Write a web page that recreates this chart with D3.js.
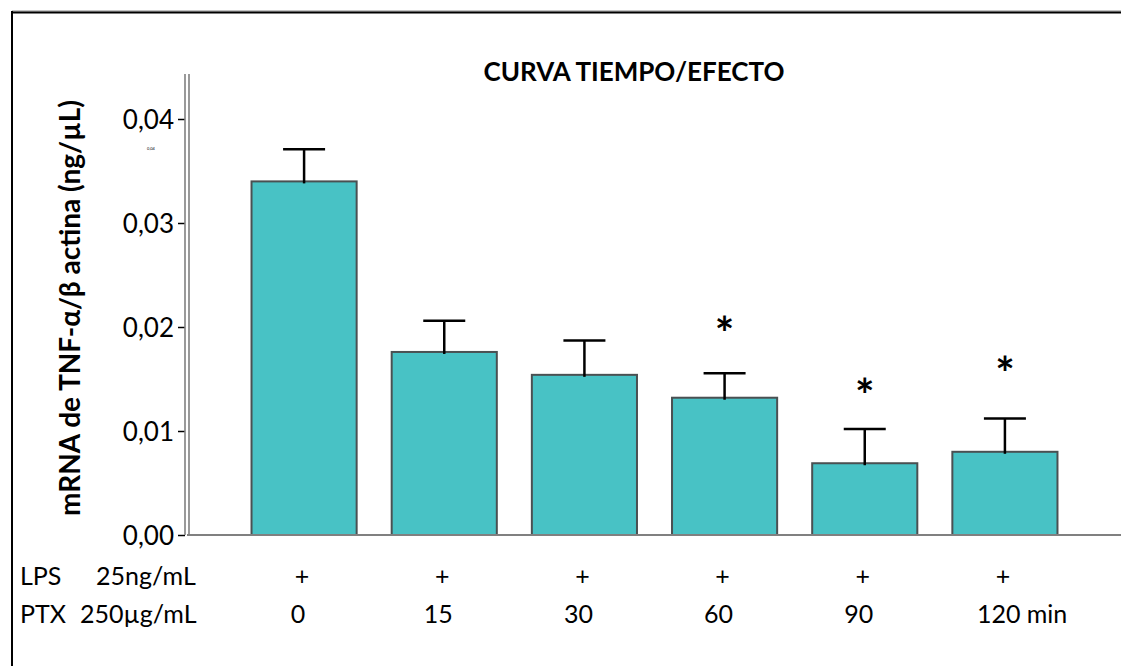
<!DOCTYPE html>
<html>
<head>
<meta charset="utf-8">
<script src="https://cdn.jsdelivr.net/npm/d3@7"></script>
<style>
  html, body { margin: 0; padding: 0; background: #fff; }
  svg { display: block; }
  text { font-family: Lato, "Open Sans", sans-serif; fill: #000; }
</style>
</head>
<body>
<svg id="chart" width="1121" height="666"></svg>
<script>
// ---- data ----
const categories = ["0", "15", "30", "60", "90", "120"];
const lpsLabels = ["+", "+", "+", "+", "+", "+"];
const ptxLabels = ["0", "15", "30", "60", "90", "120 min"];
const means = [0.0340, 0.0176, 0.0154, 0.0132, 0.0069, 0.0080];
const errors = [0.0031, 0.0030, 0.0033, 0.00235, 0.0033, 0.0032];
const significant = [false, false, false, true, true, true];
const starLevels = [null, null, null, 0.0199, 0.0139, 0.0161];
const yTicks = [0, 0.01, 0.02, 0.03, 0.04];
const yTickLabels = ["0,00", "0,01", "0,02", "0,03", "0,04"];

const title = "CURVA TIEMPO/EFECTO";
const yTitle = "mRNA de TNF-α/β actina (ng/µL)";

// ---- layout ----
const svg = d3.select("#chart");
const W = 1121, H = 666;
const axisX = 187, baseY = 535;

// outer frame (left + top only, extends past right edge)
svg.append("line").attr("x1", 12).attr("x2", W).attr("y1", 11).attr("y2", 11)
  .attr("stroke", "#888").attr("stroke-width", 1);
svg.append("line").attr("x1", 12).attr("x2", W).attr("y1", 12.5).attr("y2", 12.5)
  .attr("stroke", "#000").attr("stroke-width", 2);
svg.append("line").attr("x1", 12).attr("x2", 12).attr("y1", 11).attr("y2", H)
  .attr("stroke", "#000").attr("stroke-width", 2);

const y = d3.scaleLinear().domain([0, 0.04]).range([baseY, 119]);
const x = d3.scaleBand().domain(categories).range([234, 1075]).paddingInner(0.25).paddingOuter(0.125);
const cxOf = i => x(categories[i]) + x.bandwidth() / 2;

// bars
svg.append("g").selectAll("rect").data(means).join("rect")
  .attr("x", (d, i) => x(categories[i]))
  .attr("y", d => y(d))
  .attr("width", x.bandwidth())
  .attr("height", d => y(0) - y(d))
  .attr("fill", "#48C2C5")
  .attr("stroke", "#4a5052")
  .attr("stroke-width", 2);

// x baseline
svg.append("line").attr("x1", axisX).attr("x2", W).attr("y1", baseY).attr("y2", baseY)
  .attr("stroke", "#808080").attr("stroke-width", 2);

// y axis (double line) with ticks
const yAxis = d3.axisLeft(y).tickValues(yTicks)
  .tickFormat((d, i) => yTickLabels[i]).tickSize(7).tickPadding(4);
const gy = svg.append("g").attr("transform", `translate(${axisX - 2},0)`).call(yAxis);
gy.select(".domain").remove();
gy.selectAll(".tick line").attr("stroke", "#000").attr("stroke-width", 1.5);
gy.selectAll(".tick text").style("font-family", "Lato, sans-serif").style("font-size", "26px")
  .attr("dy", "0.36em").attr("fill", "#000");
svg.append("line").attr("x1", axisX - 2).attr("x2", axisX - 2).attr("y1", 74).attr("y2", baseY)
  .attr("stroke", "#808080").attr("stroke-width", 1.6);
svg.append("line").attr("x1", axisX + 2).attr("x2", axisX + 2).attr("y1", 74).attr("y2", baseY)
  .attr("stroke", "#808080").attr("stroke-width", 1.6);

// tiny stray label
svg.append("text").attr("x", 151).attr("y", 150).attr("text-anchor", "middle")
  .style("font-size", "4px").attr("fill", "#777").text(yTickLabels[4]);

// error bars
const eb = svg.append("g").attr("stroke", "#000").attr("stroke-width", 2.5);
means.forEach((m, i) => {
  const cx = cxOf(i);
  eb.append("line").attr("x1", cx).attr("x2", cx).attr("y1", y(m) + 2).attr("y2", y(m + errors[i]));
  eb.append("line").attr("x1", cx - 21).attr("x2", cx + 21).attr("y1", y(m + errors[i])).attr("y2", y(m + errors[i]));
});

// significance asterisks
means.forEach((m, i) => {
  if (!significant[i]) return;
  svg.append("text").attr("x", cxOf(i)).attr("y", y(starLevels[i]) + 22)
    .attr("text-anchor", "middle").style("font-size", "46px").style("font-weight", "bold")
    .text("*");
});

// title
svg.append("text").attr("x", 634).attr("y", 81).attr("text-anchor", "middle")
  .style("font-size", "26px").style("font-weight", "bold").text(title);

// y title
svg.append("text").attr("transform", "translate(80,308) rotate(-90)")
  .attr("text-anchor", "middle").style("font-size", "28px").style("font-weight", "bold")
  .text(yTitle);

// row labels
const rowY1 = 585, rowY2 = 623, fs = "25px";
svg.append("text").attr("x", 20).attr("y", rowY1).style("font-size", fs).text("LPS");
svg.append("text").attr("x", 96).attr("y", rowY1).style("font-size", fs).text("25ng/mL");
svg.append("text").attr("x", 20).attr("y", rowY2).style("font-size", fs).text("PTX");
svg.append("text").attr("x", 80).attr("y", rowY2).style("font-size", fs).text("250µg/mL");

lpsLabels.forEach((t, i) => {
  svg.append("text").attr("x", cxOf(i) - 2).attr("y", rowY1).attr("text-anchor", "middle")
    .style("font-size", fs).text(t);
});
ptxLabels.forEach((t, i) => {
  const last = i === ptxLabels.length - 1;
  svg.append("text").attr("x", last ? cxOf(i) - 28 : cxOf(i) - 6).attr("y", rowY2)
    .attr("text-anchor", last ? "start" : "middle")
    .style("font-size", fs).text(t);
});
</script>
</body>
</html>
